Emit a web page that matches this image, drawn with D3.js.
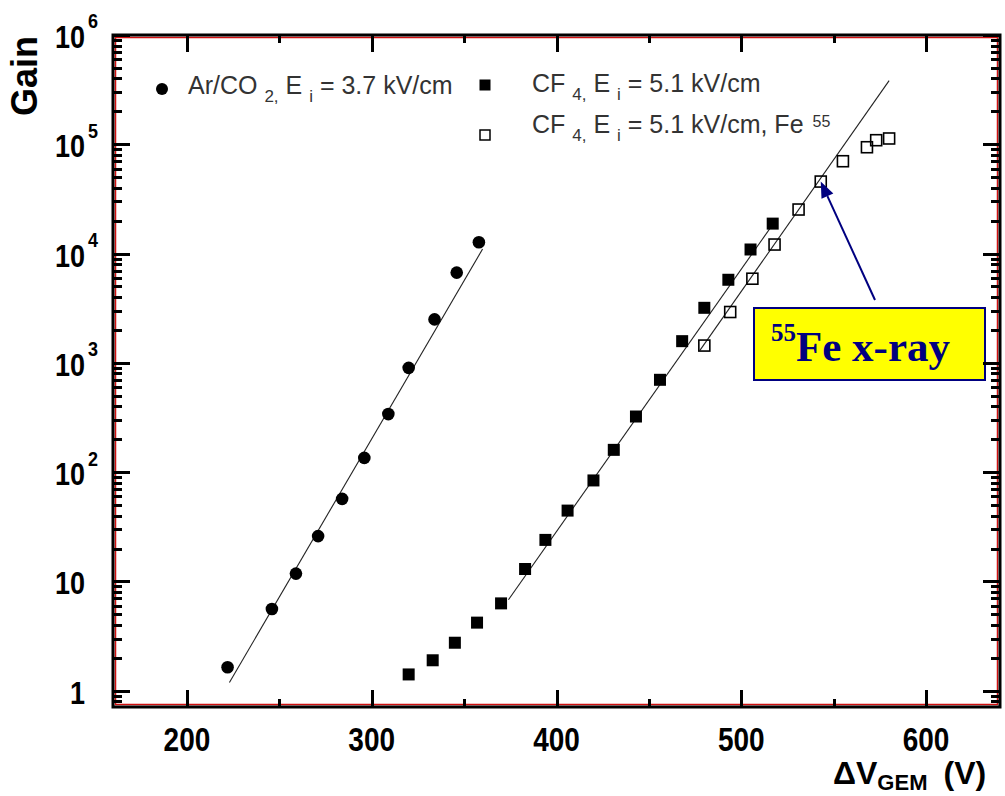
<!DOCTYPE html>
<html>
<head>
<meta charset="utf-8">
<script src="https://cdn.jsdelivr.net/npm/d3@7"></script>
<style>
  body { margin: 0; background: #fff; }
  svg { display: block; }
</style>
</head>
<body>
<svg id="canvas" width="1005" height="796"></svg>
<script>
// Ar/CO2 points (filled circles)
let arVoltage = [222, 246, 259, 271, 284, 296, 309, 320, 334, 346, 358]
let arGain = [1.64, 5.6, 11.8, 26, 57, 135, 340, 900, 2500, 6700, 12700]

// CF4 points (filled squares)
let cf4Voltage = [320, 333, 345, 357, 370, 383, 394, 406, 420, 431, 443, 456, 468, 480, 493, 505, 517]
let cf4Gain = [1.41, 1.9, 2.75, 4.2, 6.3, 13, 24, 44.5, 84, 160, 323, 700, 1580, 3190, 5760, 10900, 18800]

// CF4 with Fe55 source (open squares)
let feVoltage = [480, 494, 506, 518, 531, 543, 555, 568, 573, 580]
let feGain = [1440, 2920, 5890, 12100, 25300, 45600, 70000, 94000, 109000, 113000]

// fitted lines, [voltage, gain] end points
let arFit = [[223, 1.19], [360, 11000]]
let cf4Fit = [[374, 6.8], [519, 20600]]
let feFit = [[477.6, 1300], [580, 382000]]

let xTicks = [200, 300, 400, 500, 600]
let xMinorTicks = [250, 350, 450, 550]
let yTicks = [1, 10, 100, 1000, 10000, 100000, 1000000]
let yTickBase = ['1', '10', '10', '10', '10', '10', '10']
let yTickExp = ['', '', '2', '3', '4', '5', '6']

let legendLabels = ['Ar/CO |2,| E |i| = 3.7 kV/cm', 'CF |4,| E |i| = 5.1 kV/cm', 'CF |4,| E |i| = 5.1 kV/cm, Fe ^55']

let plotLeft = 113, plotRight = 1000, plotTop = 35, plotBottom = 707
let sans = "'Liberation Sans', Arial, sans-serif"
let serif = "'Liberation Serif', 'Times New Roman', serif"

let canvas = d3.select('#canvas')

let x = d3.scaleLinear().domain([160, 640]).range([plotLeft, plotRight])
let y = d3.scaleLog().domain([0.71, 1e6]).range([plotBottom, plotTop])

let yMinor = y.ticks().filter((v) => !yTicks.includes(v))

// x tick labels
canvas.selectAll('.xlabel')
  .data(xTicks)
  .enter()
  .append('g')
  .attr('class', 'xlabel')
  .attr('transform', (d) => 'translate(' + x(d) + ',751) scale(1,1.2)')
  .append('text')
  .attr('text-anchor', 'middle')
  .attr('font-family', sans).attr('font-weight', 'bold').attr('font-size', 28)
  .attr('fill', '#000')
  .text((d) => d)

// y tick labels with exponents
let ylab = canvas.selectAll('.ylabel')
  .data(yTicks)
  .enter()
  .append('g')
  .attr('class', 'ylabel')
  .attr('transform', (d) => 'translate(85,' + (y(d) + 13) + ') scale(1,1.15)')
ylab.append('text')
  .attr('text-anchor', 'end')
  .attr('font-family', sans).attr('font-weight', 'bold').attr('font-size', 27)
  .text((d, i) => yTickBase[i])
ylab.append('text')
  .attr('x', 3).attr('y', -17)
  .attr('font-family', sans).attr('font-weight', 'bold').attr('font-size', 18)
  .text((d, i) => yTickExp[i])

// axis titles
canvas.append('text')
  .attr('transform', 'translate(37,76) rotate(-90)')
  .attr('text-anchor', 'middle')
  .attr('font-family', sans).attr('font-weight', 'bold').attr('font-size', 36)
  .text('Gain')

let xTitle = canvas.append('text')
  .attr('x', 833).attr('y', 784)
  .attr('font-family', sans).attr('font-weight', 'bold').attr('font-size', 32)
xTitle.append('tspan').text('\u0394V')
xTitle.append('tspan').attr('font-size', 22).attr('dy', 6).text('GEM')
xTitle.append('tspan').attr('dy', -6).attr('dx', 16).text('(V)')

// fit lines
let fitLine = d3.line()
  .x((d) => x(d[0]))
  .y((d) => y(d[1]))

;[arFit, cf4Fit, feFit].forEach((fit) => {
  canvas.append('path')
    .attr('d', fitLine(fit))
    .attr('fill', 'none')
    .attr('stroke', '#222')
    .attr('stroke-width', 1.1)
})

// markers
canvas.selectAll('.ar')
  .data(arVoltage)
  .enter()
  .append('circle')
  .attr('class', 'ar')
  .attr('cx', (d) => x(d))
  .attr('cy', (d, i) => y(arGain[i]))
  .attr('r', 6.3)
  .attr('fill', '#000')

canvas.selectAll('.cf4')
  .data(cf4Voltage)
  .enter()
  .append('rect')
  .attr('class', 'cf4')
  .attr('x', (d) => x(d) - 6)
  .attr('y', (d, i) => y(cf4Gain[i]) - 6)
  .attr('width', 12).attr('height', 12)
  .attr('fill', '#000')

canvas.selectAll('.fe')
  .data(feVoltage)
  .enter()
  .append('rect')
  .attr('class', 'fe')
  .attr('x', (d) => x(d) - 5.5)
  .attr('y', (d, i) => y(feGain[i]) - 5.5)
  .attr('width', 11).attr('height', 11)
  .attr('fill', 'none')
  .attr('stroke', '#000')
  .attr('stroke-width', 1.6)

// legend
let writeLabel = (el, label) => {
  let parts = label.split('|')
  parts.forEach((p, i) => {
    if (i % 2 === 1) {
      el.append('tspan').attr('font-size', 17).attr('dy', 8).text(p)
    } else {
      let bits = p.split('^')
      el.append('tspan').attr('dy', i > 0 ? -8 : 0).text(bits[0])
      if (bits.length > 1) {
        el.append('tspan').attr('font-size', 16).attr('dy', -6).attr('dx', 2).text(bits[1])
      }
    }
  })
}

canvas.append('circle').attr('cx', 162).attr('cy', 89).attr('r', 6).attr('fill', '#000')
let leg0 = canvas.append('text')
  .attr('x', 188).attr('y', 94)
  .attr('font-family', sans).attr('font-size', 25).attr('fill', '#333')
writeLabel(leg0, legendLabels[0])

canvas.append('rect').attr('x', 479.5).attr('y', 79.5).attr('width', 11).attr('height', 11).attr('fill', '#000')
let leg1 = canvas.append('text')
  .attr('x', 532).attr('y', 92)
  .attr('font-family', sans).attr('font-size', 25).attr('fill', '#333')
writeLabel(leg1, legendLabels[1])

canvas.append('rect').attr('x', 480).attr('y', 130).attr('width', 10).attr('height', 10)
  .attr('fill', 'none').attr('stroke', '#000').attr('stroke-width', 1.5)
let leg2 = canvas.append('text')
  .attr('x', 532).attr('y', 133)
  .attr('font-family', sans).attr('font-size', 25).attr('fill', '#333')
writeLabel(leg2, legendLabels[2])

// 55Fe annotation, arrow pointing at one open square
let tipX = x(feVoltage[5]), tipY = y(feGain[5])
let tailX = 875, tailY = 300
let len = Math.hypot(tipX - tailX, tipY - tailY)
let ux = (tipX - tailX) / len, uy = (tipY - tailY) / len
let bx = tipX - ux * 16, by = tipY - uy * 16

canvas.append('line')
  .attr('x1', tailX).attr('y1', tailY).attr('x2', bx).attr('y2', by)
  .attr('stroke', '#000080').attr('stroke-width', 2)
canvas.append('polygon')
  .attr('points', [[tipX, tipY], [bx - uy * 6.5, by + ux * 6.5], [bx + uy * 6.5, by - ux * 6.5]].map((p) => p.join(',')).join(' '))
  .attr('fill', '#000080')

canvas.append('rect')
  .attr('x', 754).attr('y', 308).attr('width', 231).attr('height', 72)
  .attr('fill', '#ffff00').attr('stroke', '#000080').attr('stroke-width', 2)
let ann = canvas.append('text')
  .attr('x', 771).attr('y', 361)
  .attr('font-family', serif).attr('font-weight', 'bold').attr('font-size', 43)
  .attr('fill', '#000080')
ann.append('tspan').attr('font-size', 25).attr('dy', -20).text('55')
ann.append('tspan').attr('dy', 20).text('Fe x-ray')

// frame: red inner line, then black outline, as paths
canvas.append('path')
  .attr('d', 'M' + (plotLeft + 2.5) + ',' + (plotTop + 2.5) + 'H' + (plotRight - 2.5) + 'V' + (plotBottom - 2.5) + 'H' + (plotLeft + 2.5) + 'Z')
  .attr('fill', 'none').attr('stroke', '#d01010').attr('stroke-width', 1.5)
canvas.append('path')
  .attr('d', 'M' + plotLeft + ',' + plotTop + 'H' + plotRight + 'V' + plotBottom + 'H' + plotLeft + 'Z')
  .attr('fill', 'none').attr('stroke', '#000').attr('stroke-width', 3)

// inward ticks, one path per side, positions from the scales
let tickPath = (values, pos, from, size, vertical) => {
  let p = d3.path()
  values.forEach((v) => {
    let c = Math.round(pos(v)) + 0.5
    if (vertical) {
      p.moveTo(c, from)
      p.lineTo(c, from + size)
    } else {
      p.moveTo(from, c)
      p.lineTo(from + size, c)
    }
  })
  canvas.append('path')
    .attr('d', p.toString())
    .attr('fill', 'none')
    .attr('stroke', '#000')
    .attr('stroke-width', 3)
}

tickPath(xTicks, x, plotBottom, -17, true)
tickPath(xMinorTicks, x, plotBottom, -8, true)
tickPath(xTicks, x, plotTop, 17, true)
tickPath(xMinorTicks, x, plotTop, 8, true)
tickPath(yTicks, y, plotLeft, 17, false)
tickPath(yMinor, y, plotLeft, 9, false)
tickPath(yTicks, y, plotRight, -17, false)
tickPath(yMinor, y, plotRight, -9, false)
</script>
</body>
</html>
